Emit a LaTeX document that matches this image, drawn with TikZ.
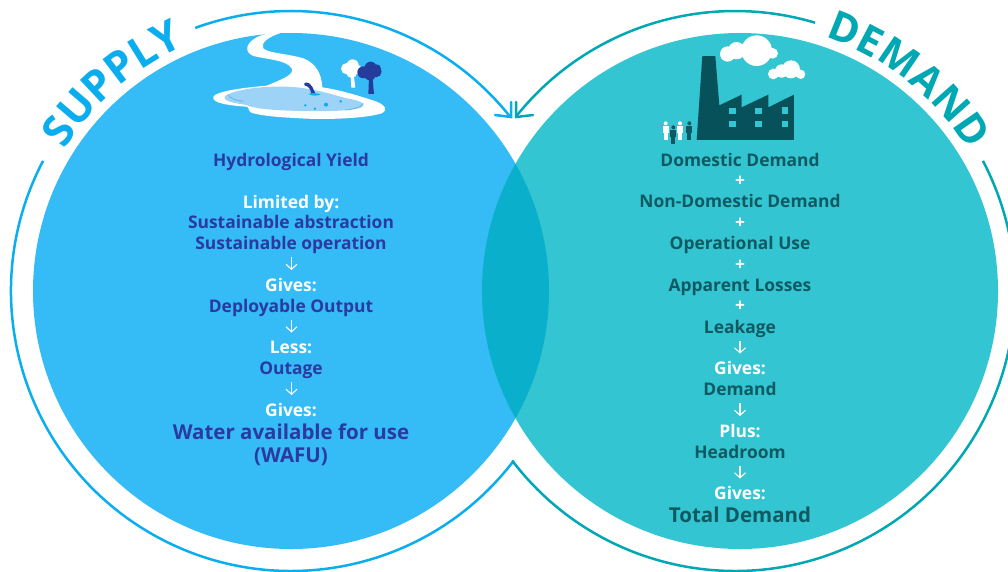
\documentclass[tikz,border=0pt]{standalone}
\usepackage{fontspec}
\setmainfont{Open Sans}
\usetikzlibrary{decorations.text,arrows.meta}
\definecolor{supfill}{HTML}{35BBF5}
\definecolor{demfill}{HTML}{33C5D1}
\definecolor{overlapfill}{HTML}{0AAFCB}
\definecolor{supring}{HTML}{0AAEEE}
\definecolor{demring}{HTML}{00A8B4}
\definecolor{suptext}{HTML}{2A3A9E}
\definecolor{demtext}{HTML}{0F5A62}
\definecolor{pond}{HTML}{9CD3F6}
\definecolor{pondline}{HTML}{62B6EA}
\definecolor{treeblue}{HTML}{243C9C}
\definecolor{factory}{HTML}{07525A}
\tikzset{
  x=1pt,y=-1pt,
  lbl/.style={font=\fontsize{17.4}{19}\selectfont\bfseries,inner sep=0pt,anchor=base},
  big/.style={font=\fontsize{20.5}{23}\selectfont\bfseries,inner sep=0pt,anchor=base},
  sup/.style={lbl,text=suptext},
  dem/.style={lbl,text=demtext},
  wht/.style={lbl,text=white},
  downarrow/.style={white,line width=1.1pt,-{Straight Barb[length=5pt,width=11pt]}},
  ringa/.style={supring,line width=2.5pt},
  ringb/.style={demring,line width=2.5pt}
}
\begin{document}
\begin{tikzpicture}
\useasboundingbox (0,0) rectangle (1008,571);
\clip (0,0) rectangle (1008,571);
% circles
\fill[supfill] (291,291) circle[radius=258];
\fill[demfill] (740,291) circle[radius=258];
\begin{scope}
\clip (291,291) circle[radius=258];
\fill[overlapfill] (740,291) circle[radius=258];
\end{scope}
% rings
\draw[ringa] (291,291) ++(-110:280) arc[start angle=-110,end angle=-38.3,radius=280];
\draw[ringa] (291,291) ++(207.7:280) arc[start angle=207.7,end angle=37.3,radius=280];
\draw[ringb] (735,291) ++(-73.4:280) arc[start angle=-73.4,end angle=-141.5,radius=280];
\draw[ringb] (735,291) ++(-27.7:280) arc[start angle=-27.7,end angle=142.7,radius=280];
\draw[ringa,line cap=round,line join=miter] (511,102) -- (511,117) -- (495,115);
\draw[ringb,line cap=round,line join=miter] (516,102) -- (516,117) -- (533,115);
% curved titles
\path[postaction={decorate},decoration={text along path,text align={fit to path},
  text={|\fontsize{43}{43}\selectfont\bfseries\color{supring}|SUPPLY}}]
  (291,291) ++(-148:267) arc[start angle=-148,end angle=-116,radius=267];
\path[postaction={decorate},decoration={text along path,text align={fit to path},
  text={|\fontsize{41}{41}\selectfont\bfseries\color{demring}|DEMAND}}]
  (740,291) ++(-71.5:268) arc[start angle=-71.5,end angle=-31.5,radius=268];
% water illustration
\begin{scope}[shift={(200,20)},x=0.3333pt,y=-0.3333pt]
\fill[white] (40,230) .. controls (50,215) and (110,205) .. (200,197)
  .. controls (240,180) and (285,165) .. (275,145)
  .. controls (260,120) and (200,118) .. (160,108)
  .. controls (130,95) and (140,70) .. (165,55)
  .. controls (185,42) and (215,38) .. (245,38)
  .. controls (205,50) and (180,70) .. (190,85)
  .. controls (205,100) and (260,100) .. (310,115)
  .. controls (350,130) and (365,165) .. (367,202)
  .. controls (420,210) and (470,225) .. (530,245)
  .. controls (555,255) and (565,270) .. (545,280)
  .. controls (500,295) and (380,300) .. (300,295)
  .. controls (250,292) and (200,290) .. (160,280)
  .. controls (140,275) and (150,262) .. (140,260)
  .. controls (100,258) and (30,250) .. (40,230) -- cycle;
\fill[pond] (75,228) .. controls (100,212) and (170,198) .. (250,200)
  .. controls (330,200) and (400,225) .. (440,235)
  .. controls (480,242) and (500,250) .. (485,262)
  .. controls (450,275) and (350,275) .. (270,272)
  .. controls (200,270) and (150,262) .. (140,255)
  .. controls (110,250) and (65,245) .. (75,228) -- cycle;
\draw[pondline,line width=.8pt] (84,224) .. controls (90,236) and (110,242) .. (130,244);
\draw[pondline,line width=.8pt] (490,250) .. controls (485,262) and (460,268) .. (435,270);
\fill[treeblue] (313,190) .. controls (320,183) and (335,190) .. (342,212)
  -- (346,220) -- (333,220) .. controls (333,208) and (325,198) .. (313,196) -- cycle;
\fill[supring] (325,222) .. controls (335,218) and (350,218) .. (362,224) .. controls (350,228) and (335,228) .. (325,222) -- cycle;
\foreach \a/\b/\r in {316/256/4,345/266/4,378/254/6,422/244/4}
  \fill[supring] (\a,\b) circle[radius=\r];
% white tree
\fill[white] (452,170) -- (462,170) -- (466,203) -- (454,203) -- cycle;
\fill[white] (440,146) circle[radius=17] (458,136) circle[radius=18] (470,148) circle[radius=15] (455,158) circle[radius=16];
% blue tree
\fill[treeblue] (507,175) -- (518,175) -- (522,222) -- (505,222) -- cycle;
\fill[treeblue] (490,157) circle[radius=18] (512,143) circle[radius=18] (528,155) circle[radius=17] (510,165) circle[radius=17] (530,146) circle[radius=13];
\end{scope}
% factory illustration
\begin{scope}[shift={(640,20)},x=0.3333pt,y=-0.3333pt]
\fill[factory] (187,108) -- (226,108) -- (238,256) -- (305,224) -- (305,262) -- (385,224) -- (385,262) -- (462,224) -- (462,360) -- (170,360) -- cycle;
\foreach \a/\b in {277/273,356/273,435/272,277/312,356/312,435/312}
  \fill[demfill] (\a-10,\b-10) rectangle (\a+10,\b+10);
\fill[white] (263,102) circle[radius=23] (290,92) circle[radius=26] (350,92) circle[radius=46] (398,100) circle[radius=16];
\fill[white] (400,162) circle[radius=16] (425,153) circle[radius=20] (453,148) circle[radius=27] (482,163) circle[radius=14];
\newcommand{\person}[3]{%
  \fill[#3] (#1,#2-25) circle[radius=6];
  \fill[#3] (#1-9,#2-17) rectangle (#1+9,#2+5);
  \fill[#3] (#1-6,#2+5) rectangle (#1+6,#2+26);}
\person{77}{335}{white}
\person{100}{347}{demtext}
\person{120}{335}{white}
\person{148}{335}{demtext}
\end{scope}
% left text
\node[sup] (s1) at (291,166) {Hydrological Yield};
\node[wht] (s2) at (291,208) {Limited by:};
\node[sup] (s3) at (291,228) {Sustainable abstraction};
\node[sup] (s4) at (291,249) {Sustainable operation};
\node[wht] (s5) at (291,291) {Gives:};
\node[sup] (s6) at (291,312) {Deployable Output};
\node[wht] (s7) at (291,353) {Less:};
\node[sup] (s8) at (291,374) {Outage};
\node[wht] (s9) at (291,416) {Gives:};
\node[big,text=suptext] (s10) at (291,439) {Water available for use};
\node[big,text=suptext] (s11) at (291,462) {(WAFU)};
\draw[downarrow] (291.5,257) -- (291.5,270);
\draw[downarrow] (291.5,319.5) -- (291.5,332.5);
\draw[downarrow] (291.5,382) -- (291.5,395);
% right text
\node[dem] (d1) at (740,166) {Domestic Demand};
\node[wht] (d2) at (740,186) {+};
\node[dem] (d3) at (740,207) {Non-Domestic Demand};
\node[wht] (d4) at (740,228) {+};
\node[dem] (d5) at (740,249) {Operational Use};
\node[wht] (d6) at (740,270) {+};
\node[dem] (d7) at (740,291) {Apparent Losses};
\node[wht] (d8) at (740,311) {+};
\node[dem] (d9) at (740,333) {Leakage};
\node[wht] (d10) at (740,374) {Gives:};
\node[dem] (d11) at (740,395) {Demand};
\node[wht] (d12) at (740,437) {Plus:};
\node[dem] (d13) at (740,458) {Headroom};
\node[wht] (d14) at (740,499.5) {Gives:};
\node[big,text=demtext] (d15) at (740,522) {Total Demand};
\draw[downarrow] (740,340.5) -- (740,353.5);
\draw[downarrow] (740,403) -- (740,416);
\draw[downarrow] (740,465.5) -- (740,478.5);
\end{tikzpicture}
\end{document}
